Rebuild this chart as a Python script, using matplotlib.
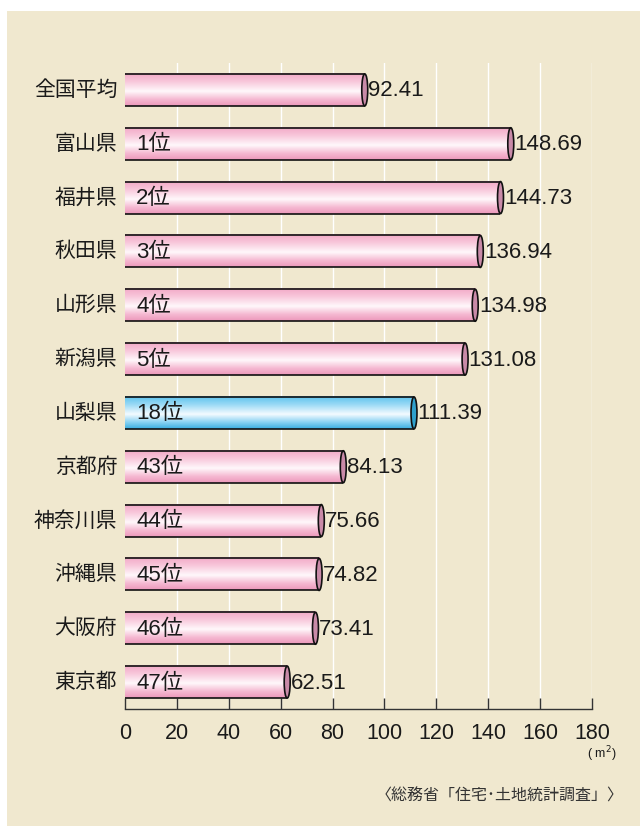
import numpy as np
import matplotlib
matplotlib.use("Agg")
import matplotlib.pyplot as plt
from matplotlib.patches import Ellipse, Rectangle, Arc
from matplotlib.colors import LinearSegmentedColormap

# Data: floor area per dwelling (m²), prefecture ranking
prefectures = ["全国平均", "富山県", "福井県", "秋田県", "山形県", "新潟県",
               "山梨県", "京都府", "神奈川県", "沖縄県", "大阪府", "東京都"]
ranks = ["", "1位", "2位", "3位", "4位", "5位", "18位", "43位", "44位", "45位", "46位", "47位"]
areas = [92.41, 148.69, 144.73, 136.94, 134.98, 131.08, 111.39,
         84.13, 75.66, 74.82, 73.41, 62.51]
highlight = "山梨県"
x_ticks = [0, 20, 40, 60, 80, 100, 120, 140, 160, 180]

BG = "#F0E8CF"
JP = ["Noto Sans CJK JP", "DejaVu Sans"]
NUM = ["Liberation Sans", "Noto Sans CJK JP"]

pink_cmap = LinearSegmentedColormap.from_list(
    "pink_cyl", [(0.0, "#F2A8C6"), (0.25, "#F8C6DA"), (0.55, "#FFF8FB"),
                 (0.8, "#F5B8D1"), (1.0, "#EC98BA")])
blue_cmap = LinearSegmentedColormap.from_list(
    "blue_cyl", [(0.0, "#5CC3EE"), (0.25, "#98D9F5"), (0.55, "#F4FBFF"),
                 (0.8, "#86D1F2"), (1.0, "#38ADDF")])

fig = plt.figure(figsize=(6.4, 8.26), dpi=100)
fig.patch.set_facecolor("white")
# background panel
fig.add_artist(Rectangle((7 / 640, 0), 1 - 7 / 640, 1 - 11 / 826,
                         transform=fig.transFigure, facecolor=BG,
                         edgecolor="none", zorder=0))

ax = fig.add_axes([125 / 640, 1 - 709 / 826, 467 / 640, (709 - 63) / 826])
ax.set_facecolor("none")
ax.set_xlim(0, 180)
ax.set_ylim(11.5, -0.5)

for t in x_ticks[1:]:
    ax.axvline(t, color="white", lw=1.0, zorder=1)

bar_h = 0.595
cap_w = 2.3
grad = np.linspace(0, 1, 256).reshape(-1, 1)

for i, (name, rank, val) in enumerate(zip(prefectures, ranks, areas)):
    is_hl = name == highlight
    cmap = blue_cmap if is_hl else pink_cmap
    cap_face = "#2FA0CC" if is_hl else "#C98AA8"
    y0, y1 = i - bar_h / 2, i + bar_h / 2
    ax.imshow(grad, cmap=cmap, extent=[0, val, y1, y0], aspect="auto",
              interpolation="bilinear", zorder=2)
    ax.plot([0, val], [y0, y0], color="#111111", lw=1.2, zorder=3,
            solid_capstyle="butt")
    ax.plot([0, val], [y1, y1], color="#111111", lw=1.2, zorder=3,
            solid_capstyle="butt")
    # left end: the visible curved rim of the cylinder
    ax.add_patch(Arc((0, i), cap_w, bar_h, theta1=90, theta2=270,
                     color="#111111", lw=1.2, zorder=3))
    # right end cap
    ax.add_patch(Ellipse((val, i), cap_w, bar_h, facecolor=cap_face,
                         edgecolor="#111111", lw=1.2, zorder=4))
    ax.text(val + 1.4, i + 0.02, f"{val:.2f}", ha="left", va="center",
            fontsize=16, family=NUM, color="#1a1a1a", zorder=5)
    if rank:
        ax.text(4.3, i + 0.02, rank, ha="left", va="center", fontsize=16,
                family=NUM, color="#1a1a1a", zorder=5)
    ax.text(-3.0, i, name, ha="right", va="center", fontsize=15,
            family=JP, color="#1a1a1a", zorder=5)

for s in ["top", "right", "left"]:
    ax.spines[s].set_visible(False)
ax.spines["bottom"].set_color("#333333")
ax.spines["bottom"].set_linewidth(1.0)
ax.set_yticks([])
ax.set_xticks(x_ticks)
ax.set_xticklabels([str(t) for t in x_ticks], family=NUM, fontsize=15.5,
                   color="#1a1a1a")
ax.tick_params(axis="x", direction="in", length=8, width=1.0,
               color="#333333", pad=10)

fig.text(602 / 640, 1 - 754 / 826, "( m$^{2}$)", ha="center", va="center",
         fontsize=9, family=NUM, color="#1a1a1a")
fig.text(624 / 640, 1 - 796 / 826, "〈総務省「住宅･土地統計調査」〉",
         ha="right", va="center", fontsize=11.5, family=JP, color="#333333")

fig.savefig("out.png", dpi=100, facecolor=fig.get_facecolor())
